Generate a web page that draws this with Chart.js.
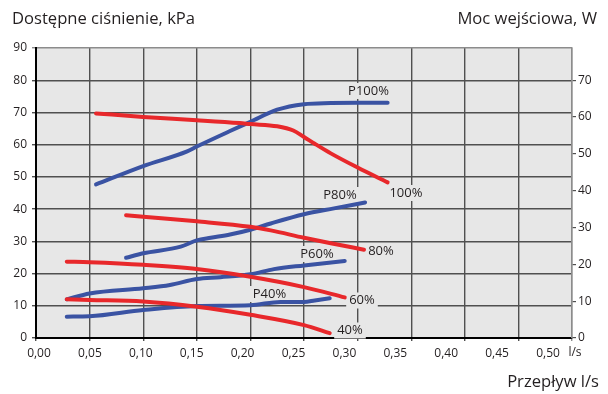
<!DOCTYPE html>
<html>
<head>
<meta charset="utf-8">
<script src="https://cdn.jsdelivr.net/npm/chart.js@4/dist/chart.umd.min.js"></script>
<style>
  html, body { margin: 0; padding: 0; background: #ffffff; }
  #c { display: block; }
</style>
</head>
<body>
<canvas id="c" width="608" height="394"></canvas>
<script>
// ---------- DATA ----------
// Flow (l/s) vs available pressure (kPa) — red curves, left axis
const pressure100 = [[0.056,69.7],[0.10,68.6],[0.15,67.6],[0.19,66.7],[0.20,66.4],[0.225,65.7],[0.24,64.4],[0.25,62.4],[0.26,60.3],[0.275,57.3],[0.30,52.9],[0.328,48.3]];
const pressure80  = [[0.084,38.1],[0.10,37.6],[0.15,36.2],[0.20,34.5],[0.219,33.4],[0.25,31.1],[0.275,29.4],[0.306,27.4]];
const pressure60  = [[0.0287,23.7],[0.05,23.5],[0.10,22.7],[0.15,21.4],[0.20,19.0],[0.25,15.8],[0.288,12.6]];
const pressure40  = [[0.0287,12.0],[0.05,11.8],[0.10,11.3],[0.15,9.7],[0.20,7.2],[0.25,4.0],[0.274,1.5]];
// Flow (l/s) vs input power (W) — blue curves, right axis
const power100 = [[0.056,41.7],[0.10,46.7],[0.141,50.7],[0.15,52.0],[0.181,56.2],[0.20,58.7],[0.225,62.0],[0.25,63.5],[0.275,63.8],[0.30,63.9],[0.328,63.9]];
const power80  = [[0.084,21.8],[0.10,23.0],[0.135,24.8],[0.15,26.5],[0.163,27.2],[0.181,28.1],[0.20,29.4],[0.219,31.1],[0.25,33.6],[0.278,35.2],[0.307,36.8]];
const power60  = [[0.0287,10.5],[0.05,12.1],[0.10,13.5],[0.125,14.4],[0.15,16.0],[0.172,16.5],[0.20,17.3],[0.222,18.7],[0.25,19.7],[0.288,20.9]];
const power40  = [[0.0287,5.8],[0.05,5.9],[0.10,7.6],[0.15,8.7],[0.20,8.9],[0.228,9.8],[0.25,9.8],[0.26,10.2],[0.274,10.8]];

// Curve labels: text and anchor (flow l/s, pressure kPa)
const curveLabels = ['P100%', '100%', 'P80%', '80%', 'P60%', '60%', 'P40%', '40%'];
const curveLabelX = [0.3102, 0.3451, 0.2836, 0.3218, 0.2621, 0.3041, 0.2178, 0.2929];
const curveLabelY = [76.66, 45.0, 44.38, 26.9, 26.07, 11.64, 13.65, 2.33];

// Axis ticks / titles
const flowTicks = [0, 0.05, 0.10, 0.15, 0.20, 0.25, 0.30, 0.35, 0.40, 0.45, 0.50];
const pressureMax = 90;
const powerMax = 78.75;
const titleLeft = 'Dostępne ciśnienie, kPa';
const titleRight = 'Moc wejściowa, W';
const titleBottom = 'Przepływ l/s';
const flowUnit = 'l/s';

// ---------- STYLE ----------
const RED = '#e8282b';
const BLUE = '#3a53a3';
const TEXT = '#231f20';
const GRID = '#505050';
const EDGE = '#8c8c8c';
const PLOT_BG = '#e7e7e7';
const FONT = "'Open Sans', 'Noto Sans', sans-serif";

const toXY = arr => arr.map(([x, y]) => ({x, y}));
const lineDs = (data, color, axis) => ({
  data: toXY(data), borderColor: color, backgroundColor: color, yAxisID: axis,
  borderWidth: 4, pointRadius: 0, tension: 0.4, cubicInterpolationMode: 'monotone',
  borderCapStyle: 'round', borderJoinStyle: 'round', fill: false
});

const near = (a, b) => Math.abs(a - b) < 1e-6;

const decor = {
  id: 'decor',
  beforeDraw(chart) {
    const {ctx, chartArea: a} = chart;
    ctx.save();
    ctx.fillStyle = PLOT_BG;
    ctx.fillRect(a.left, a.top, a.right - a.left, a.bottom - a.top);
    ctx.restore();
  },
  beforeDatasetsDraw(chart) {
    const {ctx} = chart;
    const xs = chart.scales.x, ys = chart.scales.y;
    ctx.save();
    ctx.font = '13px ' + FONT;
    ctx.textAlign = 'center';
    ctx.textBaseline = 'middle';
    curveLabels.forEach((t, i) => {
      const px = xs.getPixelForValue(curveLabelX[i]);
      const py = ys.getPixelForValue(curveLabelY[i]);
      const w = ctx.measureText(t).width;
      ctx.fillStyle = PLOT_BG;
      ctx.fillRect(px - w / 2 - 3, py - 8, w + 6, 16);
      ctx.fillStyle = TEXT;
      ctx.fillText(t, px, py);
    });
    ctx.restore();
  },
  afterDraw(chart) {
    const {ctx} = chart;
    ctx.save();
    ctx.fillStyle = TEXT;
    ctx.font = '16.6px ' + FONT;
    ctx.textBaseline = 'alphabetic';
    ctx.textAlign = 'left';
    ctx.fillText(titleLeft, 12, 24);
    ctx.textAlign = 'right';
    ctx.fillText(titleRight, 597, 24);
    ctx.fillText(titleBottom, 599, 387);
    // unit after the last flow tick label
    const x2 = chart.scales.x2;
    ctx.font = '12px ' + FONT;
    ctx.textAlign = 'center';
    ctx.textBaseline = 'middle';
    ctx.fillText(flowUnit, x2.getPixelForValue(flowTicks[flowTicks.length - 1]) + 27, 353);
    ctx.restore();
  }
};

new Chart(document.getElementById('c'), {
  type: 'line',
  data: {
    datasets: [
      lineDs(pressure100, RED, 'y'),
      lineDs(pressure80, RED, 'y'),
      lineDs(pressure60, RED, 'y'),
      lineDs(pressure40, RED, 'y'),
      lineDs(power100, BLUE, 'y2'),
      lineDs(power80, BLUE, 'y2'),
      lineDs(power60, BLUE, 'y2'),
      lineDs(power40, BLUE, 'y2')
    ]
  },
  options: {
    responsive: false,
    animation: false,
    devicePixelRatio: 1,
    layout: { padding: { top: 48, left: 0, right: 0, bottom: 0 } },
    plugins: { legend: { display: false }, tooltip: { enabled: false } },
    scales: {
      x: {
        type: 'linear', position: 'bottom', weight: 0,
        min: 0, max: 0.5,
        afterBuildTicks: s => { s.ticks = flowTicks.map(v => ({value: v})); },
        ticks: { display: false },
        grid: {
          color: c => (c.tick && near(c.tick.value, 0.5)) ? EDGE : GRID,
          lineWidth: 1.4, tickLength: 3, drawTicks: true
        },
        border: { color: '#000000', width: 2 },
        afterFit: s => { s.height = 4; }
      },
      x2: {
        type: 'linear', position: 'bottom', weight: 1,
        min: -0.002947, max: 0.52357,
        afterBuildTicks: s => { s.ticks = flowTicks.map(v => ({value: v})); },
        ticks: {
          autoSkip: false, maxRotation: 0, padding: 4, color: TEXT,
          font: { family: FONT, size: 12 },
          callback: v => v.toFixed(2).replace('.', ',')
        },
        grid: { display: false, drawTicks: false },
        border: { display: false },
        afterFit: s => { s.height = 52; }
      },
      y: {
        type: 'linear', position: 'left',
        min: 0, max: pressureMax,
        ticks: { stepSize: 10, padding: 5, color: TEXT, font: { family: FONT, size: 12 } },
        grid: {
          color: c => (c.tick && near(c.tick.value, 90)) ? EDGE : GRID,
          lineWidth: 1.4, tickLength: 4
        },
        border: { color: '#000000', width: 2 },
        afterFit: s => { s.width = 36; }
      },
      y2: {
        type: 'linear', position: 'right',
        min: 0, max: powerMax,
        ticks: { stepSize: 10, includeBounds: false, padding: 2, color: TEXT, font: { family: FONT, size: 12 } },
        grid: { drawOnChartArea: false, color: GRID, lineWidth: 1.2, tickLength: 4 },
        border: { color: EDGE, width: 1.5 },
        afterFit: s => { s.width = 36; }
      }
    }
  },
  plugins: [decor]
});
</script>
</body>
</html>
